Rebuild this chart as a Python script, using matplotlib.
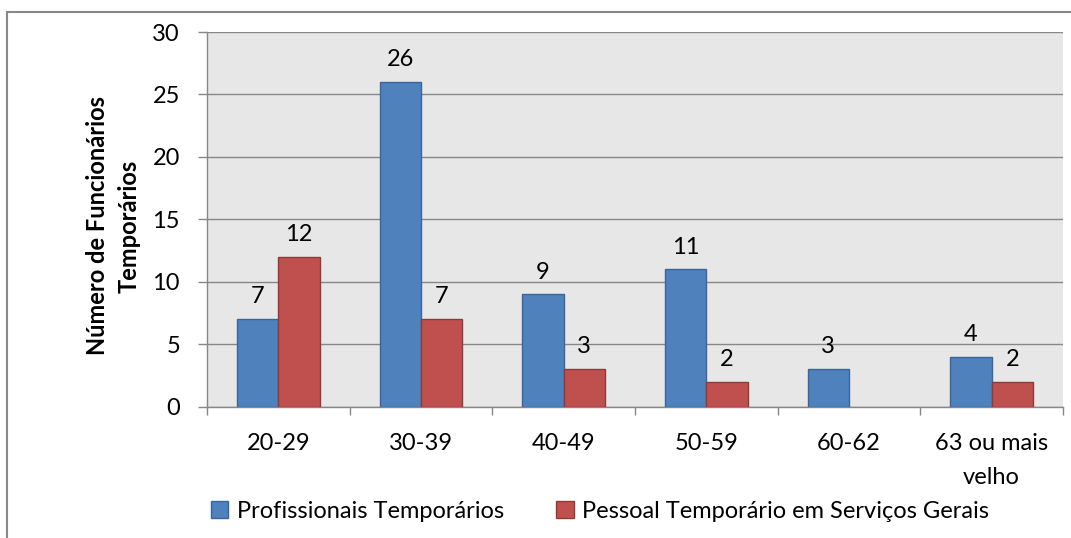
import numpy as np
import matplotlib
matplotlib.use('Agg')
import matplotlib.pyplot as plt
from matplotlib.patches import Rectangle

# 数据
faixas = ['20-29', '30-39', '40-49', '50-59', '60-62', '63 ou mais\nvelho']
profissionais = [7, 26, 9, 11, 3, 4]
pessoal = [12, 7, 3, 2, np.nan, 2]   # 60-62 sem valor
nomes = ['Profissionais Temporários', 'Pessoal Temporário em Serviços Gerais']

plt.rcParams['font.family'] = ['Lato', 'DejaVu Sans']
fs = 17

fig = plt.figure(figsize=(10.71, 5.38), dpi=100)
ax = fig.add_axes([0.1933, 0.2440, 0.7992, 0.6965])
ax.set_facecolor('#e7e7e7')

x = np.arange(len(faixas))
w = 0.29
b1 = ax.bar(x - w / 2, profissionais, w, color='#4f81bd', edgecolor='#3a659a',
            linewidth=1.0, label=nomes[0], zorder=3)
b2 = ax.bar(x + w / 2, pessoal, w, color='#c0504d', edgecolor='#8e3b38',
            linewidth=1.0, label=nomes[1], zorder=3)

# rótulos de dados
for barras, vals in ((b1, profissionais), (b2, pessoal)):
    for r, v in zip(barras, vals):
        if np.isnan(v):
            continue
        ax.annotate('%d' % v, (r.get_x() + r.get_width() / 2, v),
                    xytext=(0, 8.5), textcoords='offset points',
                    ha='center', va='bottom', fontsize=fs, color='black')

ax.set_xlim(-0.5, len(faixas) - 0.5)
ax.set_ylim(0, 30)
ax.set_yticks(range(0, 31, 5))
ax.yaxis.grid(True, color='#878787', linewidth=1.0, zorder=0)
ax.set_axisbelow(True)

# ticks nas fronteiras das categorias
ax.set_xticks(np.arange(-0.5, len(faixas), 1.0))
ax.set_xticklabels([])
ax.set_xticks(x, minor=True)
ax.set_xticklabels(faixas, minor=True, fontsize=fs, linespacing=1.75)
ax.tick_params(axis='x', which='major', length=6, width=1.0, color='#878787')
ax.tick_params(axis='x', which='minor', length=0, pad=19)
ax.tick_params(axis='y', length=6.5, width=1.0, color='#878787', pad=13, labelsize=fs)

for s in ('top', 'right'):
    ax.spines[s].set_visible(False)
for s in ('left', 'bottom'):
    ax.spines[s].set_color('#878787')
    ax.spines[s].set_linewidth(1.0)

fig.text(113 / 1071, 0.58, 'Número de Funcionários\nTemporários', rotation=90,
         ha='center', va='center', fontsize=fs, fontweight='bold',
         multialignment='center', linespacing=1.45)

fig.legend(handles=[b1, b2], labels=nomes, loc='center',
           bbox_to_anchor=(0.56, 0.05), ncol=2, frameon=False, fontsize=fs,
           handlelength=0.75, handleheight=0.75, handletextpad=0.35,
           columnspacing=2.2, borderaxespad=0)

# moldura externa
fig.patches.append(Rectangle((7 / 1071, -0.1), 1.2, (538 - 12.5) / 538 + 0.1,
                             transform=fig.transFigure, fill=False,
                             edgecolor='#878787', linewidth=1.5))

plt.savefig('out.png', dpi=100)
